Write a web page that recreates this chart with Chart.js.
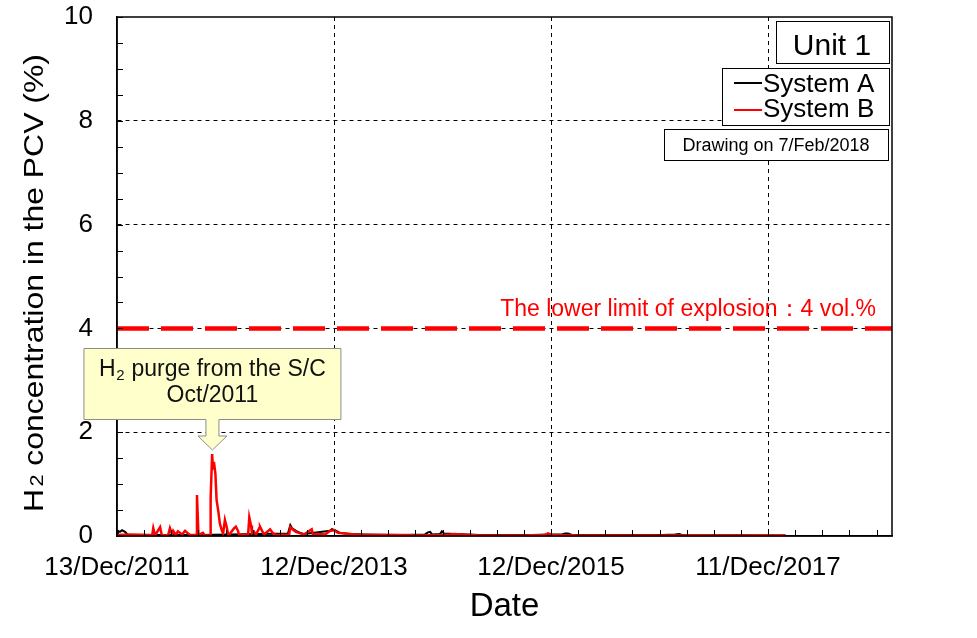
<!DOCTYPE html>
<html><head><meta charset="utf-8">
<script src="https://cdn.jsdelivr.net/npm/chart.js@4.4.1/dist/chart.umd.min.js"></script>
<style>html,body{margin:0;padding:0;background:#fff;}#wrap{width:977px;height:638px;}</style>
</head><body><div id="wrap"><canvas id="c" width="977" height="638"></canvas></div>
<script>
// ---- data ----
const xTickLabels = ['13/Dec/2011','12/Dec/2013','12/Dec/2015','11/Dec/2017'];
const xTickDays = [0, 730, 1460, 2190];          // days since 13/Dec/2011
const xMaxDay = 2607;
const xMinorStep = 91.25;
const yMajorTicks = [0, 2, 4, 6, 8, 10];
const yMinorStep = 0.5;
const seriesNames = ['System A', 'System B'];
const daysA = [0,3,10,17,27,37,279,575,583,589,602,616,629,717,723,733,750,784,834,952,1036,1046,1053,1060,1087,1093,1100,1137,1221,1396,1450,1497,1507,1517,1531,1833,1877,1891,1901,2247];
const valuesA = [0.04,0.1,0.08,0.11,0.08,0.02,0.02,0.05,0.21,0.15,0.1,0.06,0.04,0.1,0.13,0.11,0.06,0.04,0.03,0.02,0.03,0.07,0.08,0.03,0.04,0.09,0.05,0.04,0.02,0.02,0.03,0.03,0.05,0.05,0.02,0.02,0.03,0.04,0.02,0.01];
const daysB = [0,44,111,118,122,128,145,151,172,178,185,189,198,205,219,229,239,246,266,269,274,289,296,313,315,320,323,326,331,335,341,346,352,357,363,370,373,377,394,400,407,410,441,445,451,454,461,468,478,481,488,495,515,525,535,579,583,592,602,616,629,655,659,676,700,717,730,743,767,784,801,834,885,952,1019,1087,1120,1137,1154,1221,1288,1356,1440,1450,1463,1558,1625,1793,1961,2129,2250];
const valuesB = [0.02,0.03,0.02,0.0,0.15,0.01,0.17,0.01,0.02,0.15,0.03,0.1,0.02,0.09,0.03,0.1,0.05,0.02,0.02,0.79,0.02,0.06,0.01,0.01,0.73,1.58,1.3,1.43,1.2,0.69,0.47,0.24,0.12,0.05,0.31,0.15,0.05,0.02,0.15,0.18,0.1,0.03,0.02,0.36,0.2,0.05,0.08,0.03,0.15,0.18,0.1,0.03,0.13,0.05,0.02,0.03,0.17,0.12,0.08,0.05,0.03,0.13,0.03,0.04,0.03,0.1,0.11,0.06,0.05,0.04,0.03,0.02,0.02,0.02,0.01,0.02,0.03,0.04,0.03,0.01,0.01,0.01,0.02,0.05,0.02,0.01,0.01,0.01,0.01,0.01,0.01];
const explosionLimit = 4;
const limitLabel = 'The lower limit of explosion\uFF1A4 vol.%';
const unitLabel = 'Unit 1';
const drawingNote = 'Drawing on 7/Feb/2018';
const calloutLine1 = ['H', '2', ' purge from the S/C'];
const calloutLine2 = 'Oct/2011';
const calloutDay = 321, calloutValue = 1.58;
const yTitle = ['H', '2', ' concentration in the PCV (%)'];
const xTitle = 'Date';

const FONT = "Arial, 'Liberation Sans', sans-serif";
const zip = (d, v) => d.map((x, i) => ({x, y: v[i]}));

const overlay = {
  id: 'overlay',
  afterDraw(chart) {
    const {ctx, chartArea: a, scales: {x, y}} = chart;
    ctx.save();
    // minor tick marks (inward)
    ctx.strokeStyle = '#000'; ctx.lineWidth = 1; ctx.setLineDash([]);
    ctx.beginPath();
    y.ticks.forEach(t => { const py = Math.round(y.getPixelForValue(t.value)) + 0.5; ctx.moveTo(a.left, py); ctx.lineTo(a.left + 6, py); });
    x.ticks.forEach(t => { const px = Math.round(x.getPixelForValue(t.value)) + 0.5; ctx.moveTo(px, a.bottom); ctx.lineTo(px, a.bottom - 6); });
    ctx.stroke();
    // frame
    ctx.lineWidth = 1.5;
    ctx.strokeRect(a.left, a.top, a.right - a.left, a.bottom - a.top);

    // limit label
    ctx.fillStyle = '#ff0000';
    ctx.font = '23px ' + FONT;
    ctx.textAlign = 'right'; ctx.textBaseline = 'alphabetic';
    ctx.fillText(limitLabel, a.right - 16, y.getPixelForValue(explosionLimit) - 12);

    // legend boxes
    ctx.lineWidth = 1; ctx.strokeStyle = '#000'; ctx.fillStyle = '#fff';
    const box = (l, t, r, b) => { ctx.fillStyle = '#fff'; ctx.fillRect(l, t, r - l, b - t); ctx.strokeRect(l + 0.5, t + 0.5, r - l, b - t); };
    box(776, 21, 889, 63);
    ctx.fillStyle = '#000'; ctx.font = '30px ' + FONT; ctx.textAlign = 'center';
    ctx.fillText(unitLabel, 832, 55);
    box(722, 68, 889, 125);
    ctx.lineWidth = 2;
    ctx.strokeStyle = '#000'; ctx.beginPath(); ctx.moveTo(734, 83); ctx.lineTo(762, 83); ctx.stroke();
    ctx.strokeStyle = '#ff0000'; ctx.beginPath(); ctx.moveTo(734, 110); ctx.lineTo(762, 110); ctx.stroke();
    ctx.lineWidth = 1; ctx.strokeStyle = '#000';
    ctx.fillStyle = '#000'; ctx.font = '26px ' + FONT; ctx.textAlign = 'left';
    ctx.fillText(seriesNames[0], 763, 92);
    ctx.fillText(seriesNames[1], 763, 117);
    box(664, 129, 888, 160);
    ctx.fillStyle = '#000'; ctx.font = '18px ' + FONT; ctx.textAlign = 'center';
    ctx.fillText(drawingNote, 776, 151);

    // callout
    const tx = x.getPixelForValue(calloutDay), ty = y.getPixelForValue(calloutValue) - 4;
    const L = tx - 128.5, R = tx + 128.5, T = ty - 101.5, B = ty - 30.5, sh = 6.5, hh = 14.5, hy = ty - 14;
    ctx.beginPath();
    ctx.moveTo(L, T); ctx.lineTo(R, T); ctx.lineTo(R, B); ctx.lineTo(tx + sh, B); ctx.lineTo(tx + sh, hy);
    ctx.lineTo(tx + hh, hy); ctx.lineTo(tx, ty); ctx.lineTo(tx - hh, hy); ctx.lineTo(tx - sh, hy);
    ctx.lineTo(tx - sh, B); ctx.lineTo(L, B); ctx.closePath();
    ctx.fillStyle = '#ffffcc'; ctx.fill();
    ctx.strokeStyle = '#8c8c8c'; ctx.lineWidth = 1; ctx.stroke();
    ctx.fillStyle = '#111';
    ctx.textAlign = 'left';
    const f1 = '23px ' + FONT, fs = '15px ' + FONT;
    ctx.font = f1; const w0 = ctx.measureText(calloutLine1[0]).width, w2 = ctx.measureText(calloutLine1[2]).width;
    ctx.font = fs; const w1 = ctx.measureText(calloutLine1[1]).width;
    let sx = tx - (w0 + w1 + 1 + w2) / 2;
    const by = ty - 74;
    ctx.font = f1; ctx.fillText(calloutLine1[0], sx, by); sx += w0 + 0.5;
    ctx.font = fs; ctx.fillText(calloutLine1[1], sx, by + 4); sx += w1 + 0.5;
    ctx.font = f1; ctx.fillText(calloutLine1[2], sx, by);
    ctx.textAlign = 'center';
    ctx.fillText(calloutLine2, tx, ty - 47.5);

    // y title (with subscript)
    ctx.save();
    ctx.translate(43, 283);
    ctx.rotate(-Math.PI / 2);
    ctx.scale(1.14, 1);
    ctx.fillStyle = '#000'; ctx.textAlign = 'left';
    const ft = '28px ' + FONT, fts = '19px ' + FONT;
    ctx.font = ft; const a0 = ctx.measureText(yTitle[0]).width, a2 = ctx.measureText(yTitle[2]).width;
    ctx.font = fts; const a1 = ctx.measureText(yTitle[1]).width;
    let qx = -(a0 + a1 + 2 + a2) / 2;
    ctx.font = ft; ctx.fillText(yTitle[0], qx, 0); qx += a0 + 2;
    ctx.font = fts; ctx.fillText(yTitle[1], qx, 0); qx += a1;
    ctx.font = ft; ctx.fillText(yTitle[2], qx, 0);
    ctx.restore();

    ctx.restore();
  }
};

new Chart(document.getElementById('c'), {
  type: 'line',
  data: {
    datasets: [
      {label: 'limit', data: [{x: 0, y: explosionLimit}, {x: xMaxDay, y: explosionLimit}], borderColor: '#ff0000', borderWidth: 4.5, borderDash: [32, 12], pointRadius: 0, order: 0, borderCapStyle: 'butt'},
      {label: seriesNames[1], data: zip(daysB, valuesB), borderColor: '#ff0000', borderWidth: 2.5, pointRadius: 0, tension: 0, order: 1},
      {label: seriesNames[0], data: zip(daysA, valuesA), borderColor: '#000000', borderWidth: 2, pointRadius: 0, tension: 0, order: 2}
    ]
  },
  options: {
    responsive: false, animation: false,
    layout: {padding: {left: 0, top: 17, right: 85, bottom: 0}},
    plugins: {legend: {display: false}, tooltip: {enabled: false}},
    scales: {
      x: {
        type: 'linear', min: 0, max: xMaxDay,
        afterBuildTicks: s => { const t = []; for (let i = 0; i * xMinorStep <= xMaxDay; i++) t.push({value: i * xMinorStep}); s.ticks = t; },
        afterFit: s => { s.height = 102; s.paddingLeft = 0; s.paddingRight = 0; },
        ticks: {autoSkip: false, maxRotation: 0, padding: 16, color: '#000', font: {family: FONT, size: 26},
          callback: v => { const i = xTickDays.indexOf(v); return i >= 0 ? xTickLabels[i] : ''; }},
        grid: {drawTicks: false, lineWidth: 1,
          color: c => (c.tick && xTickDays.includes(c.tick.value) && c.tick.value > 0) ? '#000' : 'rgba(0,0,0,0)'},
        border: {display: true, color: '#000', width: 1.5, dash: [4, 4]},
        title: {display: true, text: xTitle, color: '#000', font: {family: FONT, size: 33}, padding: {top: 0, bottom: 11}}
      },
      y: {
        type: 'linear', min: 0, max: 10,
        afterBuildTicks: s => { const t = []; for (let i = 0; i * yMinorStep <= 10; i++) t.push({value: i * yMinorStep}); s.ticks = t; },
        afterFit: s => { s.width = 117; s.paddingTop = 0; s.paddingBottom = 0; },
        ticks: {autoSkip: false, padding: 24, color: '#000', font: {family: FONT, size: 26},
          callback: v => yMajorTicks.includes(v) ? String(v) : ''},
        grid: {drawTicks: false, lineWidth: 1,
          color: c => (c.tick && yMajorTicks.includes(c.tick.value) && c.tick.value > 0 && c.tick.value < 10) ? '#000' : 'rgba(0,0,0,0)'},
        border: {display: true, color: '#000', width: 1.5, dash: [4, 4]}
      }
    }
  },
  plugins: [overlay]
});
</script></body></html>
